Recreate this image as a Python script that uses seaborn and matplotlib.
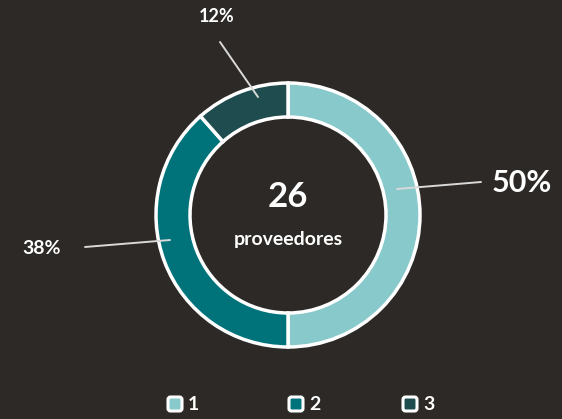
import matplotlib
matplotlib.use("Agg")
import matplotlib.pyplot as plt
import seaborn as sns
from matplotlib.patches import FancyBboxPatch

categories = ["1", "2", "3"]
counts = [13, 10, 3]
pct_labels = ["50%", "38%", "12%"]
total_label = "26"
center_label = "proveedores"

BG = "#2d2926"
colors = ["#88c9cb", "#00727a", "#1f4c4f"]

sns.set_theme(style="white")
plt.rcParams['font.family'] = ['Lato', 'DejaVu Sans']

fig = plt.figure(figsize=(5.62, 4.19), dpi=100, facecolor=BG)
ax = fig.add_axes([0, 0, 1, 1])
ax.set_facecolor(BG)

H = 419
cx, cy, R = 288, H - 215, 132
ax.pie(counts, colors=sns.color_palette(colors), startangle=90, counterclock=False,
       center=(cx, cy), radius=R, frame=True,
       wedgeprops=dict(width=34, edgecolor='white', linewidth=2.5))
ax.set_xlim(0, 562)
ax.set_ylim(0, 419)
ax.set_aspect('equal')
ax.axis('off')

# leader lines and labels
lines = [((397, 189), (481, 182)), ((170, 240), (85, 247)), ((258, 97), (220, 42))]
texts = [((522, 183), 22), ((42, 248), 14), ((217, 17), 13)]
for (p1, p2), (tp, fs), lab in zip(lines, texts, pct_labels):
    ax.plot([p1[0], p2[0]], [H - p1[1], H - p2[1]], color='#d9d9d9', lw=1.4)
    ax.text(tp[0], H - tp[1], lab, color='white', fontsize=fs, fontweight='bold',
            ha='center', va='center')

ax.text(cx, H - 197, total_label, color='white', fontsize=25, fontweight='bold',
        ha='center', va='center')
ax.text(cx, H - 240, center_label, color='white', fontsize=14, fontweight='bold',
        ha='center', va='center')

# legend
leg_x = [175, 296, 410]
for x, c, lab in zip(leg_x, colors, categories):
    sq = FancyBboxPatch((x - 7, H - 411), 14, 14, boxstyle="round,pad=0,rounding_size=2.5",
                        facecolor=c, edgecolor='white', linewidth=2.2)
    ax.add_patch(sq)
    ax.text(x + 13, H - 404, lab, color='white', fontsize=14, fontweight='bold',
            ha='left', va='center')

fig.savefig("out.png", dpi=100, facecolor=BG)
